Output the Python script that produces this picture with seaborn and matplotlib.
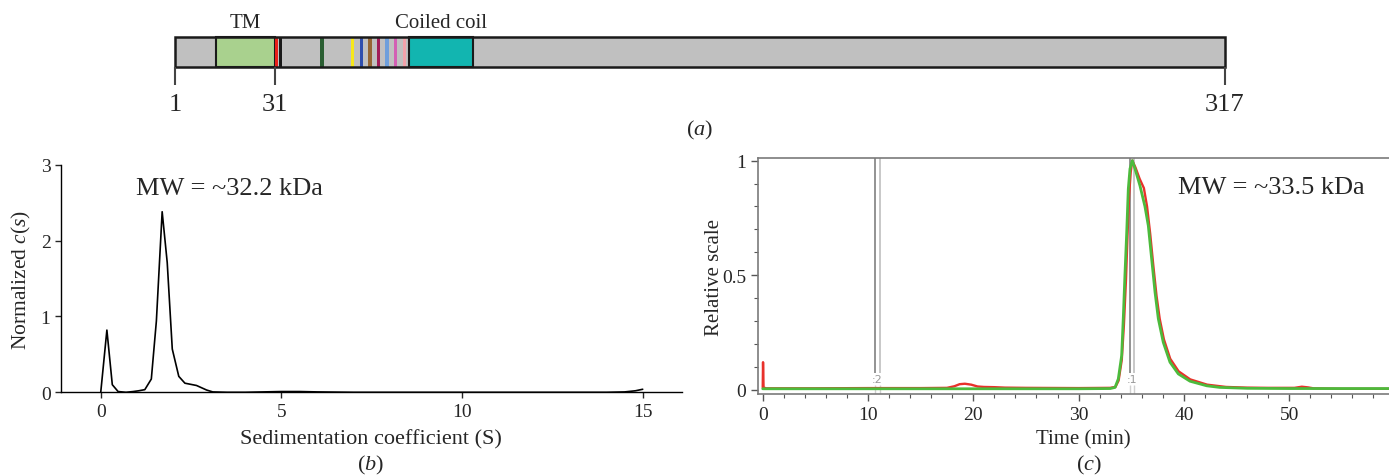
import matplotlib
matplotlib.use("Agg")
import matplotlib.pyplot as plt
import matplotlib.ticker as mticker
import seaborn as sns

# ---- (a) domain map ----
seq_start, seq_end = 1, 317
tick_residues = [1, 31, 317]
domain_names = ["TM", "Coiled coil"]
domain_start = [13.3, 71.3]
domain_end = [31.0, 90.6]
domain_colors = ["#a9d18e", "#12b5b0"]
motif_pos = [31.6, 32.8, 45.2, 54.5, 57.1, 59.7, 62.2, 64.8, 67.4, 70.1]
motif_colors = ["#e8201a", "#1a1a1a", "#2a5e32", "#f7e81a", "#2f4fae",
                "#966633", "#a21e58", "#6e9fdc", "#d35fb4", "#f2a2aa"]

# ---- (b) sedimentation velocity c(s) ----
sed_coef = [0.0, 0.17, 0.32, 0.48, 0.7, 0.9, 1.05, 1.22, 1.40, 1.54, 1.70,
            1.84, 1.98, 2.16, 2.33, 2.65, 2.93, 3.1, 3.5, 4.0, 4.5, 5.0, 5.5,
            6.0, 7.0, 8.0, 9.0, 10.0, 11.0, 12.0, 13.0, 14.0, 14.5, 14.8, 15.0]
norm_cs = [0.0, 0.82, 0.10, 0.01, 0.0, 0.01, 0.02, 0.035, 0.175, 0.94, 2.38,
           1.71, 0.57, 0.21, 0.12, 0.09, 0.03, 0.005, 0.0, 0.0, 0.005, 0.01, 0.01,
           0.005, 0.0, 0.0, 0.0, 0.0, 0.0, 0.0, 0.0, 0.0, 0.005, 0.02, 0.04]

# ---- (c) SEC-MALS trace ----
time_red = [0.0, 0.03, 0.08, 0.3, 5, 10, 15, 17.5, 18.2, 18.7, 19.2, 19.8, 20.4,
            21, 22, 23, 25, 30, 33.0, 33.5, 33.8, 34.1, 34.3, 34.5, 34.65, 34.8,
            34.95, 35.1, 35.4, 35.8, 36.2, 36.5, 36.8, 37.1, 37.4, 37.7, 38.1,
            38.7, 39.5, 40.6, 42.2, 44, 46, 48, 50.5, 51.2, 51.8, 52.3, 55, 59.5]
rel_red = [0.01, 0.12, 0.01, 0.006, 0.006, 0.007, 0.007, 0.008, 0.015, 0.024,
           0.026, 0.022, 0.014, 0.012, 0.011, 0.009, 0.008, 0.007, 0.008, 0.012,
           0.04, 0.13, 0.28, 0.48, 0.68, 0.85, 0.95, 1.0, 0.97, 0.92, 0.88, 0.80,
           0.68, 0.54, 0.41, 0.31, 0.22, 0.135, 0.08, 0.045, 0.022, 0.012, 0.009,
           0.008, 0.008, 0.013, 0.01, 0.006, 0.004, 0.004]
time_green = [0, 10, 20, 30, 33.0, 33.46, 33.77, 34.09, 34.25, 34.4, 34.57,
              34.72, 34.88, 35.1, 35.36, 35.83, 36.3, 36.62, 36.94, 37.26, 37.57,
              38.04, 38.68, 39.47, 40.58, 42.17, 43.4, 46, 50, 55, 59.5]
rel_green = [0.004, 0.004, 0.004, 0.004, 0.005, 0.01, 0.047, 0.149, 0.32, 0.5,
             0.687, 0.876, 0.964, 1.0, 0.964, 0.89, 0.80, 0.716, 0.57, 0.425,
             0.31, 0.207, 0.12, 0.069, 0.037, 0.017, 0.01, 0.006, 0.005, 0.005, 0.005]
peak_marks = [10.9, 35.1]
peak_labels = [":2", ":1"]

sns.set_style("ticks")
plt.rcParams["font.family"] = ["Liberation Serif", "DejaVu Serif"]
plt.rcParams["mathtext.fontset"] = "custom"
plt.rcParams["mathtext.rm"] = "Liberation Serif"
plt.rcParams["mathtext.it"] = "Liberation Serif:italic"

W, H = 1389, 477
fig = plt.figure(figsize=(W / 100, H / 100), dpi=100)


def px_axes(left, top, right, bottom):
    return fig.add_axes([left / W, 1 - bottom / H, (right - left) / W, (bottom - top) / H])


# panel a: residues horizontally, pixels vertically
ax_a = px_axes(0, 0, W, 140)
px_per_res = (1225 - 175) / (seq_end - seq_start)
ax_a.set_xlim(seq_start - 175 / px_per_res, seq_start + (W - 175) / px_per_res)
ax_a.set_ylim(140, 0)
ax_a.axis("off")
ax_a.barh(53, seq_end - seq_start, left=seq_start, height=30, color="#c0c0c0",
          edgecolor="none")
for s, e, c in zip(domain_start, domain_end, domain_colors):
    ax_a.barh(53, e - s, left=s, height=30, color=c, edgecolor="#1a1a1a", linewidth=1.5)
for p, c in zip(motif_pos, motif_colors):
    ax_a.barh(53, 1.0, left=p - 0.5, height=30, color=c, edgecolor="none")
ax_a.barh(53, seq_end - seq_start, left=seq_start, height=30, fill=False,
          edgecolor="#1a1a1a", linewidth=1.8)
ax_a.vlines(tick_residues, 68, 86, color="#444444", linewidth=1.5)
for r in tick_residues:
    ax_a.text(r, 105, str(r), ha="center", va="center", fontsize=19)
for name, s, e in zip(domain_names, domain_start, domain_end):
    ax_a.text((s + e) / 2, 23, name, ha="center", va="center", fontsize=15)
fig.text(700 / W, 1 - 130 / H, "($a$)", ha="center", va="center", fontsize=16)

# panel b
ax_b = px_axes(61, 165.7, 681.7, 393.3)
sns.lineplot(x=sed_coef, y=norm_cs, ax=ax_b, color="black", linewidth=1.2, sort=False)
ax_b.set_xlim(-1.1, 16.08)
ax_b.set_ylim(0, 3)
ax_b.set_xticks([0, 5, 10, 15])
ax_b.set_yticks([0, 1, 2, 3])
ax_b.tick_params(direction="out", length=4, width=1, labelsize=14)
for sp in ["top", "right"]:
    ax_b.spines[sp].set_visible(False)
for sp in ["left", "bottom"]:
    ax_b.spines[sp].set_color("black")
    ax_b.spines[sp].set_linewidth(1)
ax_b.set_xlabel("Sedimentation coefficient (S)", fontsize=16)
ax_b.set_ylabel("Normalized $c$($s$)", fontsize=15.5)
ax_b.xaxis.set_label_coords(0.5, -0.161)
ax_b.yaxis.set_label_coords(-0.045, 0.5)
ax_b.text(3.55, 2.69, "MW = ~32.2 kDa", ha="center", va="center", fontsize=19)
fig.text(371 / W, 1 - 465 / H, "($b$)", ha="center", va="center", fontsize=16)

# panel c
ax_c = px_axes(758.3, 159.3, W, 395)
for m, lab in zip(peak_marks, peak_labels):
    ax_c.vlines([m - 0.2], 0.075, 1.01, color="#8a8a8a", linewidth=1.3)
    ax_c.vlines([m + 0.2], 0.075, 1.01, color="#c4c4c4", linewidth=1.3)
    ax_c.vlines([m - 0.2, m + 0.2], -0.02, 0.02, color="#d0d0d0", linewidth=1.0)
    ax_c.text(m, 0.045, lab, ha="center", va="center", fontsize=8,
              color="#999999", family="DejaVu Sans")
sns.lineplot(x=time_red, y=rel_red, ax=ax_c, color="#e8312b", linewidth=1.7, sort=False)
sns.lineplot(x=time_green, y=rel_green, ax=ax_c, color="#4cbb3c", linewidth=2.0, sort=False)
ax_c.set_xlim(-0.42, 59.48)
ax_c.set_ylim(-0.0188, 1.01)
ax_c.xaxis.set_major_locator(mticker.MultipleLocator(10))
ax_c.xaxis.set_minor_locator(mticker.MultipleLocator(2))
ax_c.set_yticks([0, 0.5, 1])
ax_c.set_yticklabels(["0", "0.5", "1"])
ax_c.yaxis.set_minor_locator(mticker.MultipleLocator(0.1))
ax_c.tick_params(which="major", direction="out", length=5, width=1, color="#555555",
                 labelsize=14)
ax_c.tick_params(which="minor", direction="out", length=3, width=0.8, color="#555555")
ax_c.spines["right"].set_visible(False)
for sp in ["top", "left", "bottom"]:
    ax_c.spines[sp].set_color("#7a7a7a")
    ax_c.spines[sp].set_linewidth(1.2)
ax_c.set_xlabel("Time (min)", fontsize=15)
ax_c.set_ylabel("Relative scale", fontsize=15)
ax_c.xaxis.set_label_coords(0.515, -0.148)
ax_c.yaxis.set_label_coords(-0.055, 0.5)
ax_c.text(48.3, 0.885, "MW = ~33.5 kDa", ha="center", va="center", fontsize=19)
fig.text(1089 / W, 1 - 465 / H, "($c$)", ha="center", va="center", fontsize=16)

fig.savefig("out.png", dpi=100)
